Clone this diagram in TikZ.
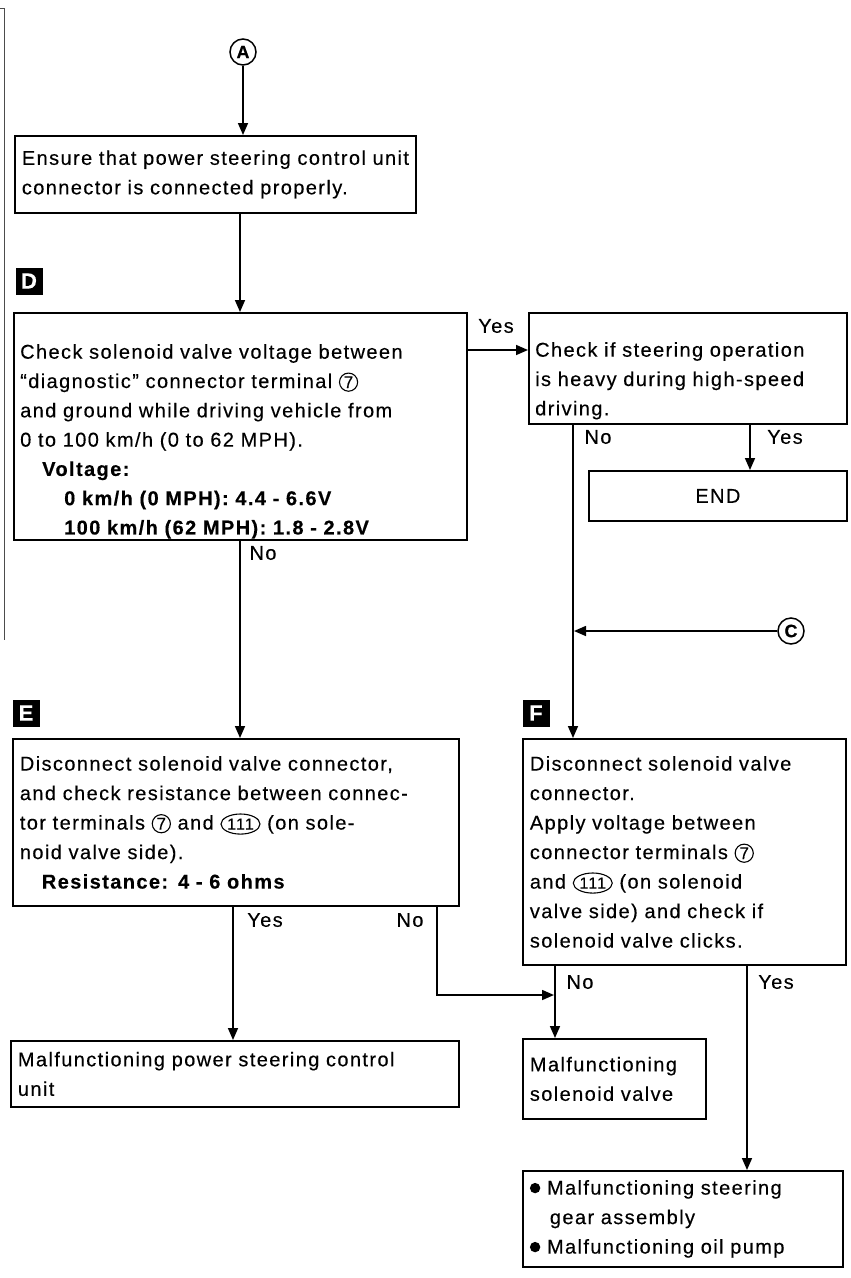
\documentclass[tikz,border=0pt]{standalone}
\usepackage{fontspec}
\setmainfont{Liberation Sans}[LetterSpace=7, FakeBold=0.3, BoldFeatures={FakeBold=0.3}]
\usetikzlibrary{arrows.meta,shapes.geometric}
\newcommand\cn[1]{\tikz[baseline=(c.base)]\node[draw,circle,line width=1.1pt,inner sep=1.1pt,text width={},align=center,minimum size=0pt,font=\fontsize{17}{17}\selectfont](c){#1};}
\newcommand\ov[1]{\tikz[baseline=(c.base)]\node[draw,ellipse,line width=1.1pt,inner xsep=0.5pt,inner ysep=1.6pt,text width={},align=center,minimum size=0pt,font=\fontsize{16}{16}\selectfont](c){#1};}
\newcommand\blt{\tikz[baseline=0pt]\fill (0pt,6.5pt) circle (5.2pt);}
\tikzset{
 box/.style={draw, line width=1.8pt, anchor=north west, align=left, inner xsep=7pt, inner ysep=0pt, font=\fontsize{20}{29.5}\selectfont},
 frame/.style={draw, line width=1.8pt, anchor=north west, inner sep=0pt},
 txt/.style={anchor=north west, align=left, inner sep=0pt, font=\fontsize{20}{29.3}\selectfont},
 conn/.style={line width=1.6pt},
 arr/.style={conn, -{Triangle[length=12pt,width=10pt]}},
 lab/.style={font=\fontsize{20}{20}\selectfont, inner sep=0pt},
 tag/.style={fill=black, text=white, minimum size=27pt, inner sep=0pt, font=\bfseries\fontsize{22}{22}\selectfont},
 refc/.style={draw, circle, line width=1.5pt, minimum size=26pt, inner sep=0pt, font=\bfseries\fontsize{18}{18}\selectfont},
}
\begin{document}
\begin{tikzpicture}[x=1pt,y=-1pt]
\useasboundingbox (0,0) rectangle (851,1278);
% scan edge line
\draw[line width=1pt, black!70] (0,8) -- (4,8) -- (4,640);
% x / y helper coordinates
\coordinate (x240) at (240,0);
\coordinate (x233) at (233,0);
\coordinate (x437) at (437,0);
\coordinate (x573) at (573,0);
\coordinate (x555) at (555,0);
\coordinate (x750) at (750,0);
\coordinate (x747) at (747,0);
\coordinate (y350) at (0,350);
% boxes
\node[box, minimum width=401pt, minimum height=77pt, text width=387pt] (b1) at (14,135)
 {Ensure that power steering control unit\\connector is connected properly.};
\node[frame, minimum width=453pt, minimum height=227pt] (bD) at (13,312) {};
\node[txt, text width=439pt] (bDt) at (20,344)
 {Check solenoid valve voltage between\\``diagnostic'' connector terminal\ \cn{7}\\and ground while driving vehicle from\\0 to 100 km/h (0 to 62 MPH).\\\hspace*{22pt}\textbf{Voltage:}\\\hspace*{44pt}\textbf{0 km/h (0 MPH): 4.4 - 6.6V}\\\hspace*{44pt}\textbf{100 km/h (62 MPH): 1.8 - 2.8V}};
\node[frame, minimum width=318pt, minimum height=111pt] (bG) at (528,312) {};
\node[txt, text width=304pt] (bGt) at (535,342)
 {Check if steering operation\\is heavy during high-speed\\driving.};
\node[box, align=center, minimum width=258pt, minimum height=50pt, text width=244pt] (bEnd) at (588,470) {END};
\node[box, minimum width=446pt, minimum height=167pt, text width=432pt] (bE) at (12,738)
 {Disconnect solenoid valve connector,\\and check resistance between connec-\\tor terminals \cn{7} and \ov{111} (on sole-\\noid valve side).\\\hspace*{22pt}\textbf{Resistance: 4 - 6 ohms}};
\node[box, minimum width=323pt, minimum height=226pt, text width=309pt] (bF) at (522,738)
 {Disconnect solenoid valve\\connector.\\Apply voltage between\\connector terminals \cn{7}\\and \ov{111} (on solenoid\\valve side) and check if\\solenoid valve clicks.};
\node[box, minimum width=448pt, minimum height=66pt, text width=434pt] (bP) at (10,1040)
 {Malfunctioning power steering control\\unit};
\node[box, minimum width=183pt, minimum height=80pt, text width=169pt] (bS) at (522,1038)
 {Malfunctioning\\solenoid valve};
\node[box, minimum width=320pt, minimum height=96pt, text width=306pt] (bB) at (522,1170)
 {\blt\ Malfunctioning steering\\\hspace*{20pt}gear assembly\\\blt\ Malfunctioning oil pump};
% tags and reference circles
\node[tag] (tD) at (29,281) {D};
\node[tag] (tE) at (26,713) {E};
\node[tag] (tF) at (536,713) {F};
\node[refc] (A) at (243,52) {A};
\node[refc] (C) at (791,631) {C};
% connectors
\draw[arr] (A.south) -- (A.south |- b1.north);
\draw[arr] (b1.south -| x240) -- (bD.north -| x240);
\draw[arr] (bD.east |- y350) -- (bG.west |- y350);
\draw[arr] (bG.south -| x573) -- (bF.north -| x573);
\draw[arr] (bG.south -| x750) -- (bEnd.north -| x750);
\coordinate (cj) at (574,631);
\draw[arr] (C.west) -- (cj);
\draw[arr] (bD.south -| x240) -- (bE.north -| x240);
\draw[arr] (bE.south -| x233) -- (bP.north -| x233);
\coordinate (nj) at (554,995);
\draw[arr] (bE.south -| x437) |- (nj);
\draw[arr] (bF.south -| x555) -- (bS.north -| x555);
\draw[arr] (bF.south -| x747) -- (bB.north -| x747);
% labels
\node[lab] (l1) at (496,326) {Yes};
\node[lab] (l2) at (598,437) {No};
\node[lab] (l3) at (785,437) {Yes};
\node[lab] (l4) at (263,553) {No};
\node[lab] (l5) at (265,920) {Yes};
\node[lab] (l6) at (410,920) {No};
\node[lab] (l7) at (580,982) {No};
\node[lab] (l8) at (776,982) {Yes};
\end{tikzpicture}
\end{document}
